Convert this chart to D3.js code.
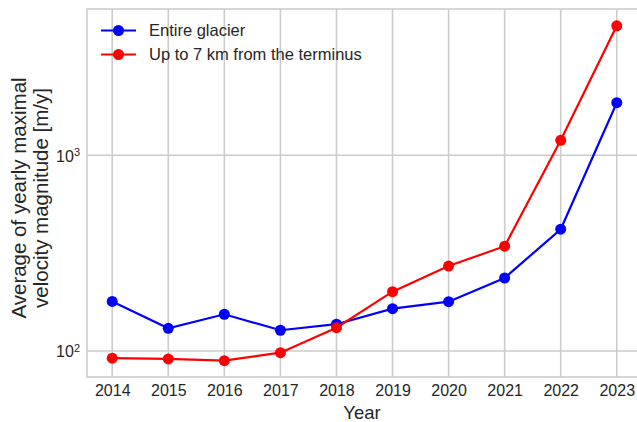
<!DOCTYPE html>
<html>
<head>
<meta charset="utf-8">
<script src="https://cdn.jsdelivr.net/npm/d3@7"></script>
<style>
	body { margin: 0; background: #fff; }
	svg text { font-family: "Liberation Sans", Arial, sans-serif; fill: #262626; }
</style>
</head>
<body>
<div class="c-svg"></div>
<script>
//DATA
//-------------------------------------------------------------------------
const years = [2014, 2015, 2016, 2017, 2018, 2019, 2020, 2021, 2022, 2023];
const entireGlacier = [179, 130.6, 154, 127.6, 137, 164.5, 178.6, 236, 419, 1857];
const nearTerminus = [91.8, 91, 89.2, 98, 131.5, 201, 271.5, 343, 1193, 4592];
const seriesNames = ["Entire glacier", "Up to 7 km from the terminus"];
const seriesColors = ["#0000ff", "#ff0000"];
const yTicks = [100, 1000];

//opts for svg
const opts = {
	width: 637,
	height: 422,
	plot: { left: 87, right: 642, top: 9, bottom: 377 }
};

const svg = d3.select(".c-svg")
	.append("svg")
	.attr("width", opts.width)
	.attr("height", opts.height);

//SCALES
//-------------------------------------------------------------------------
//5% margin on each side like matplotlib
const x = d3.scaleLinear()
	.domain([2014 - 0.45, 2023 + 0.45])
	.range([opts.plot.left, opts.plot.right]);

const y = d3.scaleLog()
	.domain([73.6, 5594])
	.range([opts.plot.bottom, opts.plot.top]);

//GRID
//-------------------------------------------------------------------------
const grid = svg.append("g").attr("class", "grid");

grid.selectAll(".vgrid")
	.data(years)
	.join("line")
	.attr("x1", (d) => x(d)).attr("x2", (d) => x(d))
	.attr("y1", opts.plot.top).attr("y2", opts.plot.bottom)
	.attr("stroke", "#cccccc").attr("stroke-width", 1.6);

grid.selectAll(".hgrid")
	.data(yTicks)
	.join("line")
	.attr("x1", opts.plot.left).attr("x2", opts.plot.right)
	.attr("y1", (d) => y(d)).attr("y2", (d) => y(d))
	.attr("stroke", "#cccccc").attr("stroke-width", 1.6);

//frame
svg.append("rect")
	.attr("x", opts.plot.left).attr("y", opts.plot.top)
	.attr("width", opts.plot.right - opts.plot.left)
	.attr("height", opts.plot.bottom - opts.plot.top)
	.attr("fill", "none")
	.attr("stroke", "#cccccc").attr("stroke-width", 1.6);

//AXIS
//-------------------------------------------------------------------------
const xAxis = d3.axisBottom(x)
	.tickValues(years)
	.tickFormat(d3.format("d"))
	.tickSize(0)
	.tickPadding(8);

svg.append("g")
	.attr("class", "axis x_axis")
	.attr("transform", `translate(0 ${opts.plot.bottom})`)
	.call(xAxis)
	.call((g) => g.select(".domain").remove())
	.selectAll("text")
	.attr("font-size", 16)
	.attr("fill", "#262626");

const yAxis = d3.axisLeft(y)
	.tickValues(yTicks)
	.tickFormat("")
	.tickSize(0);

const yg = svg.append("g")
	.attr("class", "axis y_axis")
	.attr("transform", `translate(${opts.plot.left} 0)`)
	.call(yAxis)
	.call((g) => g.select(".domain").remove());

//superscript labels 10^n
yg.selectAll(".tick").each(function(d){
	const t = d3.select(this).append("text")
		.attr("x", -7)
		.attr("dy", "0.36em")
		.attr("text-anchor", "end")
		.attr("font-size", 16)
		.attr("fill", "#262626");
	t.append("tspan").text("10");
	t.append("tspan")
		.attr("dy", "-0.5em")
		.attr("font-size", 11)
		.text(Math.round(Math.log10(d)));
});

//axis labels
svg.append("text")
	.attr("x", (opts.plot.left + 637) / 2)
	.attr("y", 419)
	.attr("text-anchor", "middle")
	.attr("font-size", 18.5)
	.text("Year");

const ylab = svg.append("text")
	.attr("transform", `translate(26 198) rotate(-90)`)
	.attr("text-anchor", "middle")
	.attr("font-size", 20.5);
ylab.append("tspan").attr("x", 0).attr("y", 0).text("Average of yearly maximal");
ylab.append("tspan").attr("x", 0).attr("y", 22).text("velocity magnitude [m/y]");

//LINES
//-------------------------------------------------------------------------
const series = [entireGlacier, nearTerminus];

const line = d3.line()
	.x((d, i) => x(years[i]))
	.y((d) => y(d));

series.forEach((values, k) => {
	svg.append("path")
		.datum(values)
		.attr("d", line)
		.attr("fill", "none")
		.attr("stroke", seriesColors[k])
		.attr("stroke-width", 2.2);

	svg.append("g")
		.selectAll("circle")
		.data(values)
		.join("circle")
		.attr("cx", (d, i) => x(years[i]))
		.attr("cy", (d) => y(d))
		.attr("r", 5.5)
		.attr("fill", seriesColors[k]);
});

//LEGEND
//-------------------------------------------------------------------------
const legend = svg.append("g").attr("transform", "translate(101 30.5)");

seriesNames.forEach((name, k) => {
	const row = legend.append("g").attr("transform", `translate(0 ${k * 24})`);
	row.append("line")
		.attr("x1", 0).attr("x2", 35)
		.attr("stroke", seriesColors[k]).attr("stroke-width", 2.2);
	row.append("circle")
		.attr("cx", 17.5).attr("r", 5.5)
		.attr("fill", seriesColors[k]);
	row.append("text")
		.attr("x", 48).attr("dy", "0.35em")
		.attr("font-size", 16.5)
		.text(name);
});
</script>
</body>
</html>
